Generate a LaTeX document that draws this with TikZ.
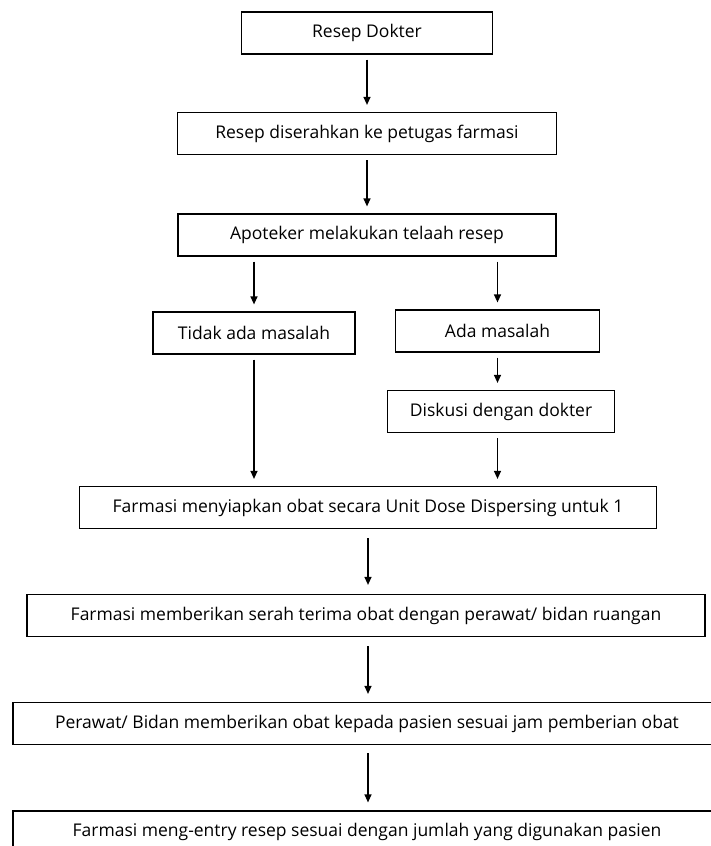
\documentclass[tikz,border=0pt]{standalone}
\usepackage{fontspec}
\setmainfont{Open Sans}
\usetikzlibrary{arrows.meta}

\begin{document}
\begin{tikzpicture}[x=1pt, y=-1pt,
        box/.style = {draw, line width=1.2pt, minimum height=42pt, inner sep=0pt,
                      font=\fontsize{17.5}{20}\selectfont},
        arr/.style = {-{Triangle[length=8pt, width=7pt]}, line width=1.2pt,
                      shorten <=5pt, shorten >=7pt}]
        \useasboundingbox (0,0) rectangle (711,846);
        \clip (0,0) rectangle (711,846);
        \node[box, minimum width=251pt] (rd) at (367,33) {Resep Dokter};
        \node[box, minimum width=379pt] (serah) at (367,133.5) {Resep diserahkan ke petugas farmasi};
        \node[box, minimum width=378pt] (telaah) at (367,235) {Apoteker melakukan telaah resep};
        \node[box, minimum width=202pt] (tidak) at (254,333) {Tidak ada masalah};
        \node[box, minimum width=204pt] (ada) at (497.5,331) {Ada masalah};
        \node[box, minimum width=227pt] (diskusi) at (501,411.5) {Diskusi dengan dokter};
        \node[box, minimum width=577pt] (siap) at (368,507.5) {Farmasi menyiapkan obat secara Unit Dose Dispersing untuk 1};
        \node[box, minimum width=678pt] (terima) at (366,615.5) {Farmasi memberikan serah terima obat dengan perawat/ bidan ruangan};
        \node[box, minimum width=708pt] (beri) at (367,723.5) {Perawat/ Bidan memberikan obat kepada pasien sesuai jam pemberian obat};
        \node[box, minimum width=708pt] (entry) at (367,832) {Farmasi meng-entry resep sesuai dengan jumlah yang digunakan pasien};
        \draw [arr] (rd) -- (serah);
        \draw [arr] (serah) -- (telaah);
        \draw [arr] (tidak.north |- telaah.south) -- (tidak.north);
        \draw [arr] (ada.north |- telaah.south) -- (ada.north);
        \draw [arr] (ada.south) -- (ada.south |- diskusi.north);
        \draw [arr] (tidak.south) -- (tidak.south |- siap.north);
        \draw [arr] (ada.south |- diskusi.south) -- (ada.south |- siap.north);
        \draw [arr, shorten <=9pt, shorten >=9pt] (siap) -- (siap.south |- terima.north);
        \draw [arr, shorten <=9pt, shorten >=8pt] (terima.south -| siap.south) -- (siap.south |- beri.north);
        \draw [arr, shorten <=8pt, shorten >=8pt] (beri.south -| siap.south) -- (siap.south |- entry.north);
    \end{tikzpicture}
\end{document}
